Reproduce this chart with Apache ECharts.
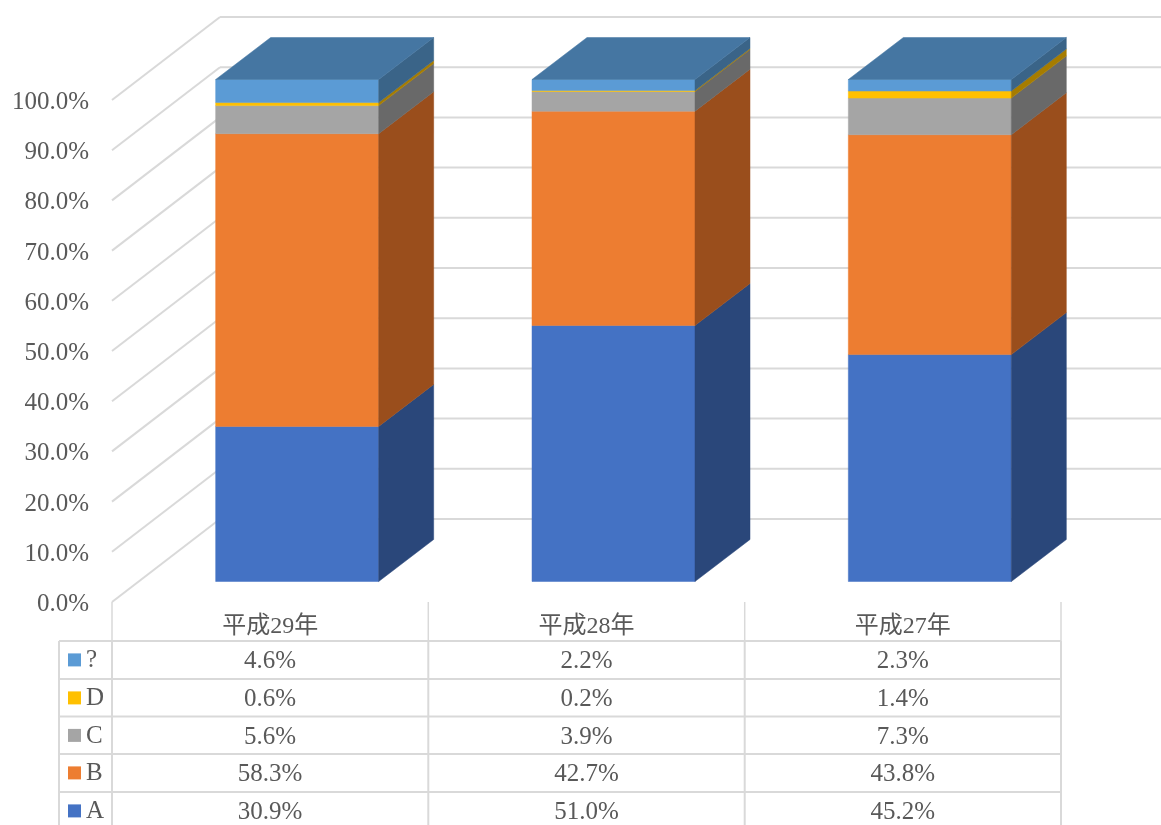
<!DOCTYPE html>
<html>
<head>
<meta charset="utf-8">
<style>
  html, body { margin: 0; padding: 0; background: #fff; }
  #chart { width: 1161px; height: 825px; overflow: hidden; }
</style>
<script src="https://cdn.jsdelivr.net/npm/echarts@6/dist/echarts.min.js"></script>
</head>
<body>
<div id="chart"></div>
<script>
"use strict";

var categories = ["平成29年", "平成28年", "平成27年"];
var valuesA = [30.9, 51.0, 45.2];
var valuesB = [58.3, 42.7, 43.8];
var valuesC = [5.6, 3.9, 7.3];
var valuesD = [0.6, 0.2, 1.4];
var valuesQ = [4.6, 2.2, 2.3];
var seriesNames = ["A", "B", "C", "D", "?"];
var seriesValues = [valuesA, valuesB, valuesC, valuesD, valuesQ];
var frontColors = ["#4472C4", "#ED7D31", "#A5A5A5", "#FFC000", "#5B9BD5"];
var sideColors = ["#2A477A", "#9A4E1C", "#696969", "#A67C00", "#3A6488"];
var topColor = "#4576A2";
var yTicks = [0, 10, 20, 30, 40, 50, 60, 70, 80, 90, 100];

var FONT = '"Liberation Serif", "Noto Sans CJK JP", serif';
var TEXT_COLOR = "#595959";
var LINE_COLOR = "#D9D9D9";

// 3d look: the walls go back by this much, the bars sit in the middle of it
var WALL_DX = 108, WALL_DY = -83;
var BAR_DX = 55, BAR_DY = -42;
var BAR_OFF_X = 27, BAR_OFF_Y = -20.5;
var BAR_WIDTH = 163;

var GRID_LEFT = 112, GRID_RIGHT = 1061, GRID_TOP = 100, GRID_BOTTOM = 602;

function poly(points, color) {
  return {
    type: "polygon",
    shape: { points: points },
    style: { fill: color, stroke: color, lineWidth: 0.5 }
  };
}

function renderWall(params, api) {
  var y = api.coord([0, api.value(0)])[1];
  var x0 = params.coordSys.x;
  var backX = x0 + WALL_DX, backY = y + WALL_DY;
  var lineStyle = { stroke: LINE_COLOR, lineWidth: 2, fill: null };
  return {
    type: "group",
    children: [
      { type: "line", shape: { x1: x0, y1: y, x2: backX, y2: backY }, style: lineStyle },
      { type: "line", shape: { x1: backX, y1: backY, x2: 1170, y2: backY }, style: lineStyle }
    ]
  };
}

function makeRenderBar(index) {
  return function (params, api) {
    var low = api.coord([api.value(0), api.value(1)]);
    var high = api.coord([api.value(0), api.value(2)]);
    var x1 = low[0] - BAR_WIDTH / 2 + BAR_OFF_X;
    var x2 = x1 + BAR_WIDTH;
    var y1 = low[1] + BAR_OFF_Y;
    var y2 = high[1] + BAR_OFF_Y;
    var children = [
      poly([[x1, y1], [x2, y1], [x2, y2], [x1, y2]], frontColors[index]),
      poly([[x2, y1], [x2 + BAR_DX, y1 + BAR_DY], [x2 + BAR_DX, y2 + BAR_DY], [x2, y2]], sideColors[index])
    ];
    if (index === seriesNames.length - 1) {
      children.push(poly([[x1, y2], [x2, y2], [x2 + BAR_DX, y2 + BAR_DY], [x1 + BAR_DX, y2 + BAR_DY]], topColor));
    }
    return { type: "group", children: children };
  };
}

var cumulative = categories.map(function () { return 0; });
var barSeries = seriesNames.map(function (name, s) {
  var rows = seriesValues[s].map(function (v, c) {
    var start = cumulative[c];
    cumulative[c] = start + v;
    return [c, start, cumulative[c]];
  });
  return {
    name: name,
    type: "custom",
    renderItem: makeRenderBar(s),
    encode: { x: 0, y: [1, 2] },
    data: rows,
    z: 5,
    silent: true,
    animation: false
  };
});

// data table under the plot, first row is the last series
var ROW_TOPS = [641, 679, 716.5, 754, 792];
var ROW_H = 37.8;
var COL_LINES = [112, 428.3, 744.7, 1061];
var TABLE_LEFT = 59;

function tableGraphics() {
  var els = [];
  function addLine(x1, y1, x2, y2, w) {
    els.push({
      type: "line",
      shape: { x1: x1, y1: y1, x2: x2, y2: y2 },
      style: { stroke: LINE_COLOR, lineWidth: w, fill: null },
      silent: true
    });
  }
  ROW_TOPS.forEach(function (y) { addLine(TABLE_LEFT, y, GRID_RIGHT, y, 2); });
  addLine(TABLE_LEFT, ROW_TOPS[0], TABLE_LEFT, 825, 2);
  COL_LINES.forEach(function (x) {
    addLine(x, GRID_BOTTOM, x, ROW_TOPS[0], 1.5);
    addLine(x, ROW_TOPS[0], x, 825, 2);
  });
  ROW_TOPS.forEach(function (y, r) {
    var s = seriesNames.length - 1 - r;
    var cy = y + ROW_H / 2;
    els.push({
      type: "rect",
      shape: { x: 68, y: cy - 6.5, width: 13, height: 13 },
      style: { fill: frontColors[s] },
      silent: true
    });
    els.push({
      type: "text",
      x: 86,
      y: cy + 1,
      style: { text: seriesNames[s], font: "25px " + FONT, fill: TEXT_COLOR, textAlign: "left", textVerticalAlign: "middle" },
      silent: true
    });
    seriesValues[s].forEach(function (v, c) {
      els.push({
        type: "text",
        x: (COL_LINES[c] + COL_LINES[c + 1]) / 2,
        y: cy + 2,
        style: { text: v.toFixed(1) + "%", font: "25px " + FONT, fill: TEXT_COLOR, textAlign: "center", textVerticalAlign: "middle" },
        silent: true
      });
    });
  });
  return els;
}

var chart = echarts.init(document.getElementById("chart"), null, { renderer: "canvas" });

chart.setOption({
  backgroundColor: "#fff",
  animation: false,
  tooltip: { show: false },
  grid: {
    left: GRID_LEFT,
    right: 1161 - GRID_RIGHT,
    top: GRID_TOP,
    bottom: 825 - GRID_BOTTOM,
    containLabel: false
  },
  xAxis: {
    type: "category",
    data: categories,
    axisLine: { show: false },
    axisTick: { show: false },
    splitLine: { show: false },
    axisLabel: { fontFamily: FONT, fontSize: 24, color: TEXT_COLOR, margin: 13 }
  },
  yAxis: {
    type: "value",
    min: 0,
    max: 100,
    interval: 10,
    axisLine: { show: false },
    axisTick: { show: false },
    splitLine: { show: false },
    axisLabel: {
      fontFamily: FONT,
      fontSize: 25,
      color: TEXT_COLOR,
      margin: 23,
      verticalAlign: "top",
      lineHeight: 5,
      formatter: function (v) { return v.toFixed(1) + "%"; }
    }
  },
  series: [{
    name: "wall",
    type: "custom",
    renderItem: renderWall,
    encode: { y: 0 },
    data: yTicks.map(function (t) { return [t]; }),
    z: 1,
    silent: true,
    animation: false
  }].concat(barSeries),
  graphic: tableGraphics()
});
</script>
</body>
</html>
